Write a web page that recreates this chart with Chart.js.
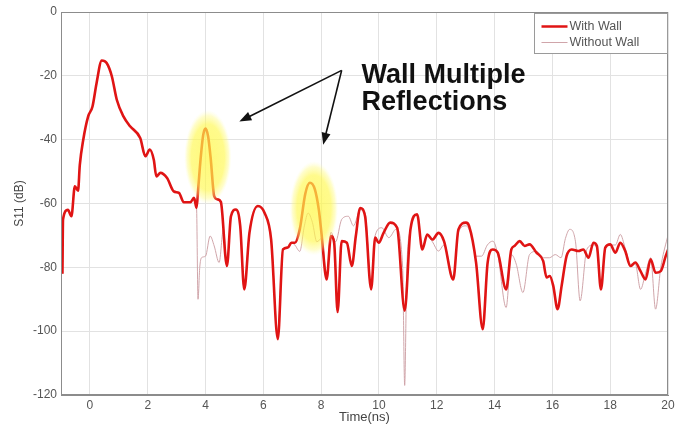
<!DOCTYPE html>
<html>
<head>
<meta charset="utf-8">
<script src="https://cdn.jsdelivr.net/npm/chart.js@4.4.1/dist/chart.umd.min.js"></script>
<style>
  html, body { margin: 0; padding: 0; background: #fff; }
  #wrap { width: 680px; height: 427px; }
</style>
</head>
<body>
<div id="wrap"><canvas id="c" width="680" height="427"></canvas></div>
<script>
// Reflection response S11 versus time, with and without the wall
const wallTime = [-0.95,-0.93,-0.76,-0.64,-0.52,-0.41,-0.35,-0.23,-0.06,0.09,0.23,0.41,0.58,0.76,0.93,1.16,1.39,1.74,1.92,2.07,2.21,2.30,2.44,2.67,2.90,3.08,3.25,3.48,3.60,3.69,3.75,3.83,3.92,4.00,4.09,4.18,4.30,4.41,4.53,4.74,4.88,5.05,5.20,5.34,5.52,5.81,6.04,6.27,6.50,6.68,6.85,6.97,7.09,7.26,7.45,7.61,7.78,7.92,8.01,8.19,8.34,8.45,8.57,8.71,8.89,9.06,9.20,9.35,9.52,9.73,9.87,9.99,10.16,10.39,10.63,10.89,11.09,11.32,11.50,11.67,11.85,12.06,12.25,12.57,12.75,13.01,13.12,13.36,13.59,13.76,13.94,14.11,14.40,14.58,14.69,14.87,15.04,15.21,15.45,15.68,15.80,15.91,16.03,16.18,16.32,16.49,16.67,16.90,17.07,17.25,17.42,17.54,17.68,17.83,18.00,18.18,18.35,18.52,18.70,18.87,19.05,19.22,19.40,19.57,19.75,19.92,20.00];
const wallS11 = [-82,-65,-62,-64,-54.6,-56,-48,-40,-32.7,-29.6,-22.3,-15.2,-16,-20.2,-27.5,-32.7,-35.8,-39.5,-45.2,-43.1,-46.3,-51.5,-50.4,-52,-56.2,-56.7,-59.6,-59.6,-58.2,-61.4,-55,-46,-38.5,-36.5,-39,-46,-57.7,-58.7,-59.5,-79.6,-64,-61.9,-67,-86.9,-69.2,-60.8,-62.9,-71.3,-102.5,-74.4,-73.8,-72.3,-72.3,-68.1,-57,-53.5,-55.5,-62,-69.2,-83.8,-70.2,-72.3,-94,-71.8,-72.3,-79.6,-70.2,-61.4,-64,-86.9,-70.7,-72.3,-69.2,-66,-67.6,-93.6,-68.1,-63.4,-74.4,-69.7,-71.3,-69.2,-71.8,-83.8,-68.1,-66,-67.1,-78.5,-99.4,-78.5,-74.4,-75.4,-86.9,-74.4,-73.3,-71.8,-73.3,-72.8,-75.4,-78,-83.2,-82.7,-85.8,-93.1,-85.8,-76.5,-74.4,-74.9,-74.4,-77,-72.3,-73.3,-86.9,-73.8,-72.8,-75.4,-72.3,-74.9,-79.6,-78.5,-81.2,-83.8,-77.5,-81.7,-81.2,-76.5,-74.5];

const freeTime = [-0.95,-0.93,-0.76,-0.64,-0.52,-0.41,-0.35,-0.23,-0.06,0.09,0.23,0.41,0.58,0.76,0.93,1.16,1.39,1.74,1.92,2.07,2.21,2.30,2.44,2.67,2.90,3.08,3.25,3.48,3.60,3.69,3.74,3.80,3.86,4.00,4.16,4.30,4.47,4.62,4.74,4.88,5.05,5.20,5.34,5.52,5.81,6.04,6.27,6.50,6.68,6.85,6.97,7.09,7.26,7.42,7.55,7.70,7.85,8.01,8.19,8.34,8.50,8.71,8.94,9.12,9.35,9.52,9.73,9.87,10.10,10.34,10.60,10.82,10.89,10.96,11.09,11.32,11.50,11.67,11.85,12.06,12.25,12.57,12.75,13.01,13.20,13.36,13.55,13.75,13.94,14.11,14.40,14.58,14.75,14.98,15.21,15.45,15.70,15.90,16.10,16.30,16.45,16.60,16.80,16.96,17.19,17.42,17.54,17.68,17.83,18.00,18.18,18.35,18.52,18.70,18.87,19.05,19.22,19.40,19.57,19.75,19.97,20.00];
const freeS11 = [-82,-65,-62,-64,-54.6,-56,-48,-40,-32.7,-29.6,-22.3,-15.2,-16,-20.2,-27.5,-32.7,-35.8,-39.5,-45.2,-43.1,-46.3,-51.5,-50.4,-52,-56.2,-56.7,-59.6,-59.6,-58.2,-61.4,-90,-80,-77,-76.5,-70.2,-73.3,-78.5,-68,-79,-64,-62,-67,-86,-69,-61,-63,-71.3,-100,-74.4,-73.8,-72.3,-73,-75,-67,-63,-66,-72,-71,-82,-69,-72,-65,-64,-67,-62,-63,-86,-70,-67.6,-70.7,-68,-80,-117,-82,-68,-63.4,-74,-70,-72,-74.9,-73,-83,-69,-67,-70,-76.5,-76.5,-73,-71.8,-76,-92.6,-76,-79,-87.9,-76,-75,-77,-77,-76,-77,-71,-68.1,-72,-90.5,-74.4,-73,-74,-86,-74,-73,-73,-69.7,-74,-79,-79,-86.9,-82,-77,-93.1,-80,-71,-70];

const timeTicks = [0, 2, 4, 6, 8, 10, 12, 14, 16, 18, 20];
const s11Ticks = [0, -20, -40, -60, -80, -100, -120];
const seriesNames = ['With Wall', 'Without Wall'];
const noteLines = ['Wall Multiple', 'Reflections'];

const FONT = '"Liberation Sans", Arial, Helvetica, sans-serif';
const WALL_COLOR = '#e01414';
const FREE_COLOR = 'rgba(205,160,165,0.95)';

const toPoints = (xs, ys) => xs.map((t, i) => ({ x: t, y: ys[i] }));

// Soft yellow halos, annotation arrows, axes frame and legend
const decorations = {
  id: 'decorations',
  afterDatasetsDraw(chart) {
    const { ctx, chartArea: a, scales: { x, y } } = chart;

    // halos around the two wall echoes (data-space centre and radii)
    const halos = [
      { t: 4.08, s: -45.5, dt: 0.82, ds: 14.8 },
      { t: 7.75, s: -61.5, dt: 0.84, ds: 14.8 }
    ];
    halos.forEach(h => {
      const cx = x.getPixelForValue(h.t), cy = y.getPixelForValue(h.s);
      const rx = Math.abs(x.getPixelForValue(h.t + h.dt) - cx);
      const ry = Math.abs(y.getPixelForValue(h.s + h.ds) - cy);
      ctx.save();
      ctx.translate(cx, cy);
      ctx.scale(rx, ry);
      const g = ctx.createRadialGradient(0, 0, 0, 0, 0, 1);
      g.addColorStop(0, 'rgba(255,248,70,0.72)');
      g.addColorStop(0.7, 'rgba(255,248,80,0.66)');
      g.addColorStop(0.88, 'rgba(255,250,120,0.38)');
      g.addColorStop(1, 'rgba(255,255,190,0)');
      ctx.fillStyle = g;
      ctx.beginPath();
      ctx.arc(0, 0, 1, 0, Math.PI * 2);
      ctx.fill();
      ctx.restore();
    });

    // frame around the plot area
    ctx.save();
    ctx.strokeStyle = '#8c8c8c';
    ctx.lineWidth = 1;
    ctx.strokeRect(Math.round(a.left) + 0.5, Math.round(a.top) + 0.5,
                   Math.round(a.width) - 1, Math.round(a.height) - 1);
    ctx.restore();

    // arrows from the note to the echoes
    const arrow = (t0, s0, t1, s1) => {
      const x0 = x.getPixelForValue(t0), y0 = y.getPixelForValue(s0);
      const x1 = x.getPixelForValue(t1), y1 = y.getPixelForValue(s1);
      const ang = Math.atan2(y1 - y0, x1 - x0);
      const len = 12, half = 4.5;
      ctx.save();
      ctx.strokeStyle = '#111';
      ctx.fillStyle = '#111';
      ctx.lineWidth = 1.6;
      ctx.beginPath();
      ctx.moveTo(x0, y0);
      ctx.lineTo(x1 - Math.cos(ang) * len * 0.8, y1 - Math.sin(ang) * len * 0.8);
      ctx.stroke();
      ctx.beginPath();
      ctx.moveTo(x1, y1);
      ctx.lineTo(x1 - Math.cos(ang) * len - Math.sin(ang) * half,
                 y1 - Math.sin(ang) * len + Math.cos(ang) * half);
      ctx.lineTo(x1 - Math.cos(ang) * len + Math.sin(ang) * half,
                 y1 - Math.sin(ang) * len - Math.cos(ang) * half);
      ctx.closePath();
      ctx.fill();
      ctx.restore();
    };
    arrow(8.71, -18.3, 5.17, -34.3);
    arrow(8.71, -18.3, 8.07, -41.6);

    // note text
    ctx.save();
    ctx.fillStyle = '#111';
    ctx.font = 'bold 27px ' + FONT;
    ctx.textAlign = 'left';
    ctx.textBaseline = 'alphabetic';
    ctx.fillText(noteLines[0], x.getPixelForValue(9.4), y.getPixelForValue(-22.2));
    ctx.fillText(noteLines[1], x.getPixelForValue(9.4), y.getPixelForValue(-30.6));
    ctx.restore();

    // legend box in the upper-right corner
    ctx.save();
    const bw = 133, bh = 40;
    const bx = Math.round(a.right) - bw - 0.5, by = Math.round(a.top) + 1.5;
    ctx.fillStyle = '#fff';
    ctx.fillRect(bx, by, bw, bh);
    ctx.strokeStyle = '#9a9a9a';
    ctx.lineWidth = 1;
    ctx.strokeRect(bx, by, bw, bh);
    const rows = [
      { color: WALL_COLOR, width: 2.5 },
      { color: FREE_COLOR, width: 1 }
    ];
    ctx.font = '12.5px ' + FONT;
    ctx.textBaseline = 'middle';
    ctx.fillStyle = '#555';
    rows.forEach((r, i) => {
      const ly = by + 13 + i * 16;
      ctx.strokeStyle = r.color;
      ctx.lineWidth = r.width;
      ctx.beginPath();
      ctx.moveTo(bx + 7, ly);
      ctx.lineTo(bx + 33, ly);
      ctx.stroke();
      ctx.fillText(seriesNames[i], bx + 35, ly + 0.5);
    });
    ctx.restore();
  }
};

new Chart(document.getElementById('c'), {
  type: 'line',
  data: {
    datasets: [
      {
        label: seriesNames[0],
        data: toPoints(wallTime, wallS11),
        borderColor: WALL_COLOR,
        borderWidth: 2.6,
        pointRadius: 0,
        cubicInterpolationMode: 'monotone',
        fill: false
      },
      {
        label: seriesNames[1],
        data: toPoints(freeTime, freeS11),
        borderColor: FREE_COLOR,
        borderWidth: 1,
        pointRadius: 0,
        cubicInterpolationMode: 'monotone',
        fill: false
      }
    ]
  },
  options: {
    responsive: false,
    animation: false,
    devicePixelRatio: 1,
    layout: { padding: { top: 12, right: 12, left: 0, bottom: 0 } },
    plugins: { legend: { display: false }, tooltip: { enabled: false } },
    scales: {
      x: {
        type: 'linear',
        min: -1,
        max: 20,
        afterBuildTicks: s => { s.ticks = timeTicks.map(v => ({ value: v })); },
        afterFit: s => { s.height = 32; },
        grid: { color: '#e2e2e2', lineWidth: 1, drawTicks: false },
        border: { color: '#8c8c8c' },
        ticks: { padding: 3, color: '#555', font: { size: 12, family: FONT }, maxRotation: 0 },
        title: { display: true, text: 'Time(ns)', color: '#444', font: { size: 13, family: FONT }, padding: { top: 0, bottom: 2 } }
      },
      y: {
        type: 'linear',
        min: -120,
        max: 0,
        afterBuildTicks: s => { s.ticks = s11Ticks.map(v => ({ value: v })); },
        afterFit: s => { s.width = 61; },
        grid: { color: '#e2e2e2', lineWidth: 1, drawTicks: false },
        border: { color: '#8c8c8c' },
        ticks: { padding: 4, color: '#555', font: { size: 12, family: FONT } },
        title: { display: true, text: 'S11 (dB)', color: '#444', font: { size: 12, family: FONT }, padding: { top: 12, bottom: 0 } }
      }
    }
  },
  plugins: [decorations]
});
</script>
</body>
</html>
